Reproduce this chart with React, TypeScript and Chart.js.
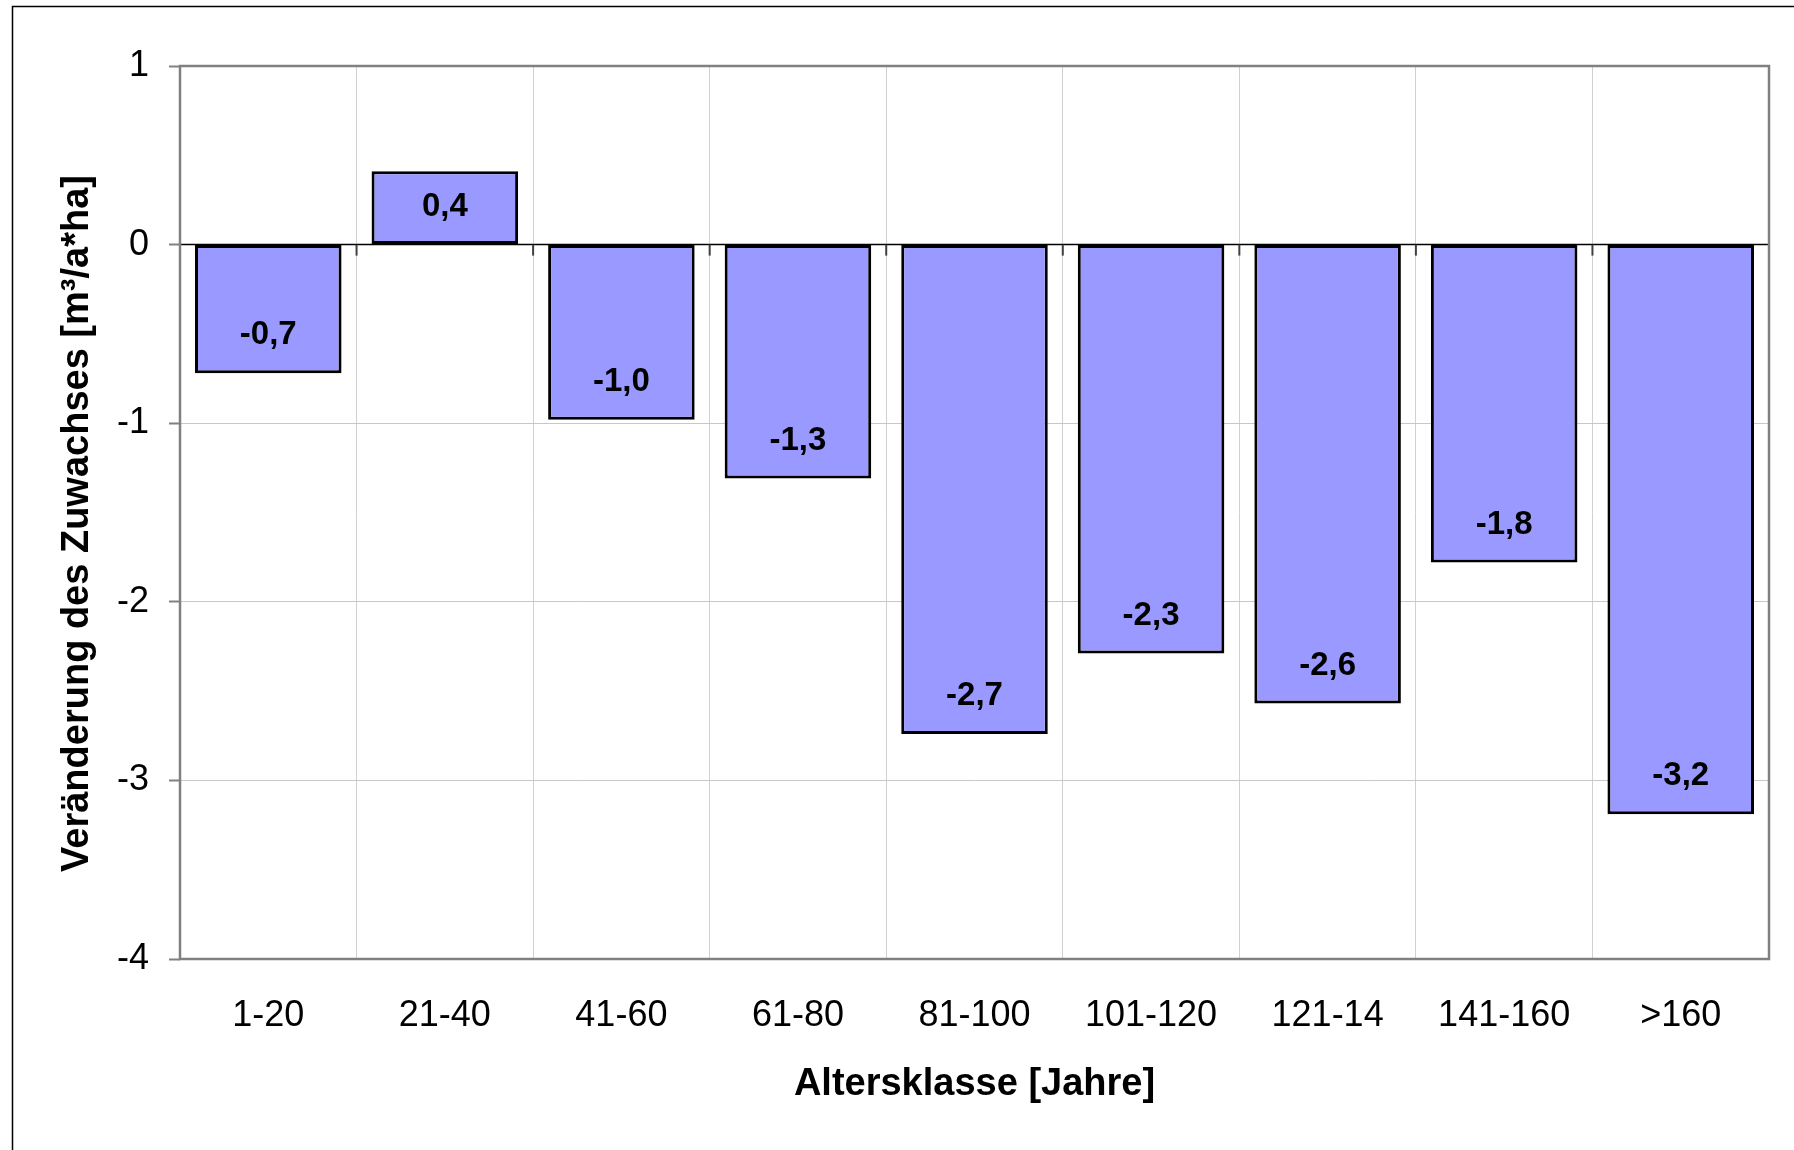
import React, { useEffect, useRef } from "react";
import { Chart, registerables } from "chart.js";

Chart.register(...registerables);

const categories = ["1-20", "21-40", "41-60", "61-80", "81-100", "101-120", "121-14", "141-160", ">160"];
const values = [-0.72, 0.41, -0.98, -1.31, -2.74, -2.29, -2.57, -1.78, -3.19];
const yMin = -4;
const yMax = 1;
const xTitle = "Altersklasse [Jahre]";
const yTitle = "Veränderung des Zuwachses [m³/a*ha]";

const FONT = "'Liberation Sans', Arial, Helvetica, sans-serif";
const W = 1794;
const H = 1150;

const decorPlugin = {
  id: "decor",
  beforeDraw(chart: any) {
    const ctx = chart.ctx;
    ctx.save();
    ctx.fillStyle = "#ffffff";
    ctx.fillRect(0, 0, chart.width, chart.height);
    ctx.strokeStyle = "#000000";
    ctx.lineWidth = 1.5;
    ctx.strokeRect(12.5, 6.5, chart.width + 40, chart.height + 40);
    ctx.restore();
  },
  beforeDatasetsDraw(chart: any) {
    const ctx = chart.ctx;
    const xs = chart.scales.x;
    const ys = chart.scales.y;
    const y0 = ys.getPixelForValue(0);
    const half = (xs.getPixelForValue(1) - xs.getPixelForValue(0)) / 2;
    ctx.save();
    ctx.strokeStyle = "#000000";
    ctx.lineWidth = 1.5;
    ctx.beginPath();
    ctx.moveTo(chart.chartArea.left, y0);
    ctx.lineTo(chart.chartArea.right, y0);
    ctx.stroke();
    ctx.strokeStyle = "#404040";
    ctx.lineWidth = 2;
    for (let i = 0; i <= categories.length; i++) {
      const x = xs.getPixelForValue(0) - half + i * 2 * half;
      ctx.beginPath();
      ctx.moveTo(x, y0);
      ctx.lineTo(x, y0 + 11);
      ctx.stroke();
    }
    ctx.restore();
  },
  afterDatasetsDraw(chart: any) {
    const ctx = chart.ctx;
    const meta = chart.getDatasetMeta(0);
    ctx.save();
    ctx.fillStyle = "#000000";
    ctx.font = `bold 33px ${FONT}`;
    ctx.textAlign = "center";
    ctx.textBaseline = "alphabetic";
    meta.data.forEach((bar: any, i: number) => {
      const v = values[i];
      const txt = v.toFixed(1).replace(".", ",");
      const y = v < 0 ? bar.y - 29 : bar.y + 45;
      ctx.fillText(txt, bar.x, y);
    });
    ctx.restore();
  },
  afterDraw(chart: any) {
    const ctx = chart.ctx;
    const a = chart.chartArea;
    ctx.save();
    ctx.strokeStyle = "#808080";
    ctx.lineWidth = 2.5;
    ctx.strokeRect(a.left, a.top, a.right - a.left, a.bottom - a.top);
    // y axis title
    ctx.translate(78, (a.top + a.bottom) / 2 + 11);
    ctx.rotate(-Math.PI / 2);
    ctx.fillStyle = "#000000";
    ctx.font = `bold 38px ${FONT}`;
    ctx.textAlign = "center";
    ctx.textBaseline = "middle";
    ctx.fillText(yTitle, 0, 0);
    ctx.restore();
  },
};

export default function App() {
  const ref = useRef<HTMLCanvasElement | null>(null);

  useEffect(() => {
    if (!ref.current) return;
    const chart = new Chart(ref.current, {
      type: "bar",
      data: {
        labels: categories,
        datasets: [
          {
            data: values,
            backgroundColor: "#9999FF",
            borderColor: "#000000",
            borderWidth: 3,
            borderSkipped: false,
            categoryPercentage: 1,
            barPercentage: 0.83,
          },
        ],
      },
      options: {
        animation: false,
        responsive: false,
        maintainAspectRatio: false,
        layout: { padding: { top: 66, right: 25, left: 0, bottom: 0 } },
        plugins: {
          legend: { display: false },
          tooltip: { enabled: false },
          title: { display: false },
        },
        scales: {
          x: {
            offset: true,
            grid: {
              offset: true,
              display: true,
              drawTicks: false,
              color: "#d0d0d0",
              lineWidth: 1,
            },
            border: { display: false },
            ticks: {
              color: "#000000",
              font: { family: FONT, size: 36 },
              padding: 35,
              maxRotation: 0,
              autoSkip: false,
            },
            title: {
              display: true,
              text: xTitle,
              color: "#000000",
              font: { family: FONT, size: 38, weight: "bold" },
              padding: { top: 0, bottom: 43 },
            },
            afterFit(scale: any) {
              scale.height = 191;
            },
          },
          y: {
            min: yMin,
            max: yMax,
            ticks: {
              stepSize: 1,
              color: "#000000",
              font: { family: FONT, size: 36 },
              padding: 20,
              callback: (v: any) => String(v),
            },
            grid: {
              color: (c: any) => (c.tick && c.tick.value === 0 ? "#000000" : "#c8c8c8"),
              lineWidth: 1,
              drawTicks: true,
              tickLength: 11,
              tickColor: "#808080",
              tickWidth: 2,
            },
            border: { display: false },
            title: { display: false },
            afterFit(scale: any) {
              scale.width = 180;
            },
          },
        },
      },
      plugins: [decorPlugin],
    } as any);
    return () => chart.destroy();
  }, []);

  return (
    <div style={{ position: "absolute", left: 0, top: 0, width: W, height: H, overflow: "hidden", background: "#fff" }}>
      <canvas ref={ref} width={W} height={H} style={{ display: "block", width: W, height: H }} />
    </div>
  );
}
